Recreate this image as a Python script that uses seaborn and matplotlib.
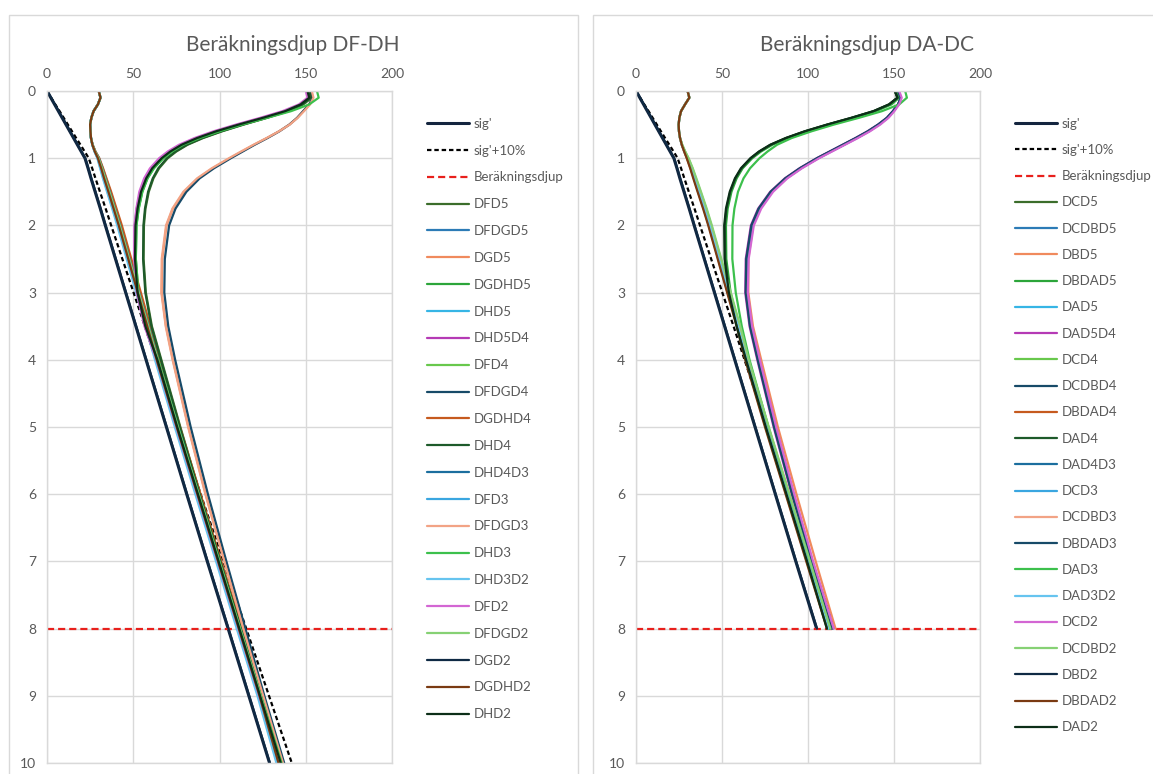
import matplotlib
matplotlib.use("Agg")
import matplotlib.pyplot as plt
import seaborn as sns
from matplotlib.patches import Rectangle

sns.set_theme(style="white")
plt.rcParams['font.family'] = ['Lato', 'DejaVu Sans']

# ---------------- data: left panel (DF-DH) ----------------
DEPTH_L = [0, 0.1, 0.2, 0.3, 0.4, 0.5, 0.6, 0.7, 0.8, 0.9, 1.0, 1.15, 1.3, 1.5, 1.75, 2.0, 2.5, 3.0, 3.5, 4.0, 5.0, 6.0, 7.0, 8.0, 9.0, 10.0]
SIG_L = [0, 2.2, 4.4, 6.6, 8.8, 11, 13.2, 15.4, 17.6, 19.8, 22, 23.8, 25.5, 27.9, 30.9, 33.8, 39.7, 45.6, 51.5, 57.4, 69.2, 81, 92.9, 105, 117, 129]
SIG10_L = [0, 2.4, 4.8, 7.3, 9.7, 12.1, 14.5, 16.9, 19.4, 21.8, 24.2, 26.2, 28.1, 30.7, 34, 37.2, 43.7, 50.2, 56.7, 63.1, 76.1, 89.1, 102.2, 115.5, 128.7, 141.9]
BERAK_X = [0, 200]
BERAK_Y = [8, 8]

DFD5 = [152.5, 153.5, 148.5, 140, 127.5, 114, 101.5, 90.5, 81.5, 75, 70, 65, 61.7, 59, 57.1, 56.2, 56, 57.3, 60.8, 66.3, 77.3, 88.8, 100.8, 112.8, 124.8, 136.5]
DFDGD5 = [30, 31, 29.5, 27, 25.7, 25, 25.2, 25.5, 26.4, 28, 30.2, 32.3, 34.2, 36.8, 39.9, 42.9, 48.4, 53.9, 59.4, 64.9, 76.4, 88.4, 100.5, 112.5, 124.5, 135.5]
DGD5 = [153, 154, 152, 148.5, 145, 140.5, 134.5, 127.5, 120, 113, 106, 96, 87.5, 79.5, 73, 69.3, 66.8, 66.5, 69, 73, 82, 92, 103, 114, 125.5, 137]
DGDHD5 = [152, 153, 148, 139, 126, 112, 99, 88, 79, 72.5, 67.3, 61.8, 58.2, 55.2, 53.1, 51.8, 51.5, 53, 57.5, 64.5, 76, 88, 100, 112, 124, 136]
DHD5 = [30, 31, 29.5, 27, 25.7, 25, 25.2, 25.5, 26.3, 27.6, 29.3, 31, 32.7, 35.1, 38.1, 41.1, 46.6, 52.1, 57.6, 63.1, 74.6, 86.5, 98.5, 110.5, 122.5, 133.5]
DHD5D4 = [151, 152, 147, 137.8, 124.6, 110.5, 97.5, 86.5, 77.5, 71, 66, 60.5, 57, 54, 52, 50.9, 50.8, 52.3, 56.8, 63.8, 75.3, 87.3, 99.3, 111.3, 123.3, 135.3]
DFD4 = [30, 31, 29.5, 27, 25.7, 25, 25.2, 25.5, 26.3, 27.8, 29.7, 31.6, 33.4, 35.9, 38.9, 41.9, 47.4, 52.9, 58.4, 63.9, 75.5, 87.5, 99.5, 111.5, 123.5, 134.5]
DFDGD4 = [153, 154, 152, 148.5, 145, 140.5, 134.7, 127.8, 120.4, 113.5, 106.6, 96.8, 88.5, 80.8, 74.5, 70.8, 68.3, 68, 70.3, 74.3, 83.3, 93.3, 104, 115, 126, 137.5]
DGDHD4 = [30, 31, 29.5, 27, 25.7, 25, 25.2, 25.5, 26.5, 28.1, 30.3, 32.5, 34.5, 37.2, 40.3, 43.4, 48.9, 54.4, 59.9, 65.4, 77, 89, 101, 113, 125, 136]
DHD4 = [152, 153, 148, 139.5, 127, 113.5, 101, 90, 81, 74.5, 69.5, 64.5, 61.3, 58.6, 56.8, 55.9, 55.7, 57, 60.5, 66, 77, 88.5, 100.5, 112.5, 124.5, 136]
DHD4D3 = [30, 31, 29.5, 27, 25.7, 25, 25.2, 25.5, 26.4, 27.9, 30, 32, 33.9, 36.4, 39.4, 42.4, 47.9, 53.4, 58.9, 64.4, 76, 88, 100, 112, 124, 135]
DFD3 = [30, 31, 29.5, 27, 25.7, 25, 25.2, 25.5, 26.3, 27.7, 29.5, 31.3, 33, 35.5, 38.5, 41.5, 47, 52.5, 58, 63.5, 75, 87, 99, 111, 123, 134]
DFDGD3 = [153.5, 154.5, 152.5, 149, 145.3, 140.7, 134.5, 127.3, 119.7, 112.5, 105.5, 95.5, 87, 79, 72.7, 69, 66.5, 66.3, 68.8, 72.8, 81.8, 91.8, 102.8, 113.8, 125.3, 136.8]
DHD3 = [156.5, 157.5, 152, 141.5, 127.5, 113, 100, 88.5, 79, 72.5, 67.5, 62, 58.3, 55.3, 53.2, 51.9, 51.5, 53, 57.5, 64.5, 76, 88, 100, 112, 124, 136]
DHD3D2 = [30, 31, 29.5, 27, 25.7, 25, 25.2, 25.5, 26.2, 27.5, 29.2, 30.8, 32.4, 34.8, 37.8, 40.7, 46.2, 51.7, 57.1, 62.6, 74.1, 86, 98, 110, 122, 133]
DFD2 = [150, 151, 146, 136.5, 123.5, 109.5, 96.5, 85.5, 76.5, 70, 65, 59.7, 56.3, 53.5, 51.8, 50.7, 50.5, 52, 56.5, 63.5, 75, 87, 99, 111, 123, 135]
DFDGD2 = [30, 31, 29.5, 27, 25.7, 25, 25.2, 25.5, 26.4, 27.9, 29.9, 31.9, 33.7, 36.2, 39.2, 42.2, 47.7, 53.2, 58.7, 64.2, 75.8, 87.8, 99.8, 111.8, 123.8, 134.8]
DGD2 = [0.2, 2.4, 4.6, 6.8, 9.0, 11.2, 13.4, 15.6, 17.8, 20, 22.2, 24, 25.7, 28.1, 31.1, 34, 39.9, 45.8, 51.7, 57.6, 69.4, 81.2, 93.1, 105.2, 117.2, 129.2]
DGDHD2 = [30, 31, 29.5, 27, 25.7, 25, 25.2, 25.5, 26.3, 27.7, 29.5, 31.4, 33.1, 35.6, 38.6, 41.6, 47.1, 52.6, 58.1, 63.6, 75.2, 87.2, 99.2, 111.2, 123.2, 134.2]
DHD2 = [151, 152, 147, 138, 125, 111, 98, 87, 78, 71.5, 66.5, 61, 57.5, 54.5, 52.5, 51.3, 51, 52.5, 57, 64, 75.5, 87.5, 99.5, 111.5, 123.5, 135.5]

# ---------------- data: right panel (DA-DC) ----------------
DEPTH_R = [0, 0.1, 0.2, 0.3, 0.4, 0.5, 0.6, 0.7, 0.8, 0.9, 1.0, 1.15, 1.3, 1.5, 1.75, 2.0, 2.5, 3.0, 3.5, 4.0, 5.0, 6.0, 7.0, 8.0]
SIG_R = [0, 2.2, 4.4, 6.6, 8.8, 11, 13.2, 15.4, 17.6, 19.8, 22, 23.8, 25.5, 27.9, 30.9, 33.8, 39.7, 45.6, 51.5, 57.4, 69.2, 81, 92.9, 105]
SIG10_R = [0, 2.4, 4.8, 7.3, 9.7, 12.1, 14.5, 16.9, 19.4, 21.8, 24.2, 26.2, 28.1, 30.7, 34, 37.2, 43.7, 50.2, 56.7, 63.1, 76.1, 89.1, 102.2, 115.5]

DCD5 = [150.5, 152, 147.3, 138.4, 125.5, 111.5, 98.5, 87.5, 78.5, 72, 67, 61.5, 58, 55, 52.8, 51.8, 52, 54.5, 59, 64.5, 76, 88, 100, 112]
DCDBD5 = [152.5, 154, 152.5, 149.7, 146.3, 141.4, 135.5, 128.5, 121, 113.5, 106, 96, 87.5, 79, 72, 67.8, 64.8, 64.5, 67, 71.5, 81, 91.5, 102.5, 114.5]
DBD5 = [152.5, 154, 152.5, 149.7, 146.2, 141.2, 135.2, 128.2, 120.7, 113.2, 105.8, 95.8, 87.4, 79, 72.2, 68.1, 65.3, 65.3, 68, 72.8, 82.5, 93.3, 104.5, 116]
DBDAD5 = [151.5, 153, 148.5, 139.5, 126.5, 112.5, 99.5, 88.5, 79.3, 72.7, 67.6, 62, 58.5, 55.5, 53.3, 52.3, 52.5, 55, 59.5, 65, 76.5, 88.5, 100.5, 112.5]
DAD5 = [30, 31, 28.5, 26.2, 25.2, 24.8, 25, 25.6, 26.7, 28.3, 30, 32.2, 34.1, 36.7, 40, 43, 48.5, 54, 59.5, 64.5, 76, 88, 100, 112]
DAD5D4 = [152.5, 154, 152.3, 149.3, 145.7, 140.6, 134.5, 127.5, 120, 112.5, 105, 95, 86.5, 78, 71, 66.8, 63.8, 63.5, 66, 70.5, 80, 90.5, 101.5, 113.5]
DCD4 = [30, 31, 28.5, 26.2, 25.2, 24.8, 25, 25.6, 26.8, 28.5, 30.4, 32.8, 34.8, 37.5, 40.8, 43.8, 49.3, 54.8, 60.3, 65.3, 76.8, 88.8, 100.8, 112.5]
DCDBD4 = [152.5, 154, 152.5, 149.5, 146, 141, 135, 128, 120.5, 113, 105.5, 95.5, 87, 78.5, 71.5, 67.3, 64.3, 64, 66.5, 71, 80.5, 91, 102, 114]
DBDAD4 = [30, 31, 28.5, 26.2, 25.2, 24.8, 25, 25.6, 26.6, 28, 29.6, 31.7, 33.6, 36.1, 39.3, 42.3, 47.8, 53.3, 58.8, 63.8, 75.3, 87.3, 99.3, 111.3]
DAD4 = [150.5, 152, 147.2, 138.2, 125.3, 111.3, 98.3, 87.3, 78.3, 71.8, 66.8, 61.3, 57.8, 54.8, 52.6, 51.6, 51.8, 54.3, 58.8, 64.3, 75.8, 87.8, 99.8, 111.5]
DAD4D3 = [152.5, 154, 152.5, 149.6, 146.2, 141.2, 135.3, 128.3, 120.8, 113.3, 105.8, 95.8, 87.3, 78.8, 71.8, 67.6, 64.6, 64.3, 66.8, 71.3, 80.8, 91.3, 102.3, 114.3]
DCD3 = [30, 31, 28.5, 26.2, 25.2, 24.8, 25, 25.6, 26.6, 28.1, 29.8, 32, 33.9, 36.4, 39.6, 42.6, 48.1, 53.6, 59.1, 64.1, 75.6, 87.6, 99.6, 111.6]
DCDBD3 = [30, 31, 28.5, 26.2, 25.2, 24.8, 25, 25.6, 26.7, 28.4, 30.2, 32.5, 34.6, 37.3, 40.6, 43.6, 49, 54.6, 60.2, 65.3, 77, 89.2, 101.5, 113.8]
DBDAD3 = [152.5, 154, 152.4, 149.4, 145.9, 140.8, 134.8, 127.8, 120.3, 112.8, 105.3, 95.3, 86.8, 78.3, 71.3, 67.1, 64.1, 63.8, 66.3, 70.8, 80.3, 90.8, 101.8, 113.8]
DAD3 = [156.5, 157.5, 153, 143, 129.5, 115, 102, 90.5, 82, 76.5, 71.8, 66.3, 62.5, 59.3, 57.2, 56.1, 56, 58, 61.5, 66, 77, 88.5, 100.5, 112.5]
DAD3D2 = [30, 31, 28.5, 26.2, 25.2, 24.8, 25, 25.6, 26.7, 28.2, 29.9, 32.1, 34, 36.6, 39.8, 42.8, 48.3, 53.8, 59.3, 64.3, 75.8, 87.8, 99.8, 111.8]
DCD2 = [153, 154.5, 153, 150.2, 146.8, 142, 136, 129, 121.5, 114, 106.5, 96.5, 88, 79.7, 72.8, 68.5, 65.5, 65, 67.5, 72, 81.5, 92, 103, 115]
DCDBD2 = [30, 31, 28.5, 26.2, 25.2, 24.8, 25, 25.6, 26.9, 28.6, 30.6, 33, 35.1, 37.8, 41.1, 44.1, 49.6, 55.1, 60.6, 65.6, 77.2, 89.2, 101.2, 113]
DBD2 = [0.2, 2.4, 4.6, 6.8, 9.0, 11.2, 13.4, 15.6, 17.8, 20, 22.2, 24, 25.7, 28.1, 31.1, 34, 39.9, 45.8, 51.7, 57.6, 69.4, 81.2, 93.1, 105.2]
DBDAD2 = [30, 31, 28.5, 26.2, 25.2, 24.8, 25, 25.6, 26.6, 28, 29.5, 31.5, 33.3, 35.8, 39, 42, 47.5, 53, 58.5, 63.5, 75, 87, 99, 111]
DAD2 = [150.5, 152, 147, 138, 125, 111, 98, 87, 78, 71.5, 66.5, 61, 57.5, 54.5, 52.3, 51.3, 51.5, 54, 58.5, 64, 75.5, 87.5, 99.5, 111]

X_TICKS = [0, 50, 100, 150, 200]
Y_TICKS = [0, 1, 2, 3, 4, 5, 6, 7, 8, 9, 10]
TITLES = ["Beräkningsdjup DF-DH", "Beräkningsdjup DA-DC"]

LEFT_SERIES = [
    ("DFD5", DFD5, "#3b6d2b"), ("DFDGD5", DFDGD5, "#2c7bb6"), ("DGD5", DGD5, "#f08a5d"),
    ("DGDHD5", DGDHD5, "#2ca53a"), ("DHD5", DHD5, "#36b5e5"), ("DHD5D4", DHD5D4, "#b53ab5"),
    ("DFD4", DFD4, "#68c84c"), ("DFDGD4", DFDGD4, "#174a68"), ("DGDHD4", DGDHD4, "#c65a1e"),
    ("DHD4", DHD4, "#1d5a2a"), ("DHD4D3", DHD4D3, "#1b6e9e"), ("DFD3", DFD3, "#3aa6e0"),
    ("DFDGD3", DFDGD3, "#f2a385"), ("DHD3", DHD3, "#3cc04c"), ("DHD3D2", DHD3D2, "#66c4ef"),
    ("DFD2", DFD2, "#d366d3"), ("DFDGD2", DFDGD2, "#86d174"), ("DGD2", DGD2, "#0f2a44"),
    ("DGDHD2", DGDHD2, "#7a3a12"), ("DHD2", DHD2, "#0c2e18"),
]
RIGHT_SERIES = [
    ("DCD5", DCD5, "#3b6d2b"), ("DCDBD5", DCDBD5, "#2c7bb6"), ("DBD5", DBD5, "#f08a5d"),
    ("DBDAD5", DBDAD5, "#2ca53a"), ("DAD5", DAD5, "#36b5e5"), ("DAD5D4", DAD5D4, "#b53ab5"),
    ("DCD4", DCD4, "#68c84c"), ("DCDBD4", DCDBD4, "#174a68"), ("DBDAD4", DBDAD4, "#c65a1e"),
    ("DAD4", DAD4, "#1d5a2a"), ("DAD4D3", DAD4D3, "#1b6e9e"), ("DCD3", DCD3, "#3aa6e0"),
    ("DCDBD3", DCDBD3, "#f2a385"), ("DBDAD3", DBDAD3, "#174a68"), ("DAD3", DAD3, "#3cc04c"),
    ("DAD3D2", DAD3D2, "#66c4ef"), ("DCD2", DCD2, "#d366d3"), ("DCDBD2", DCDBD2, "#86d174"),
    ("DBD2", DBD2, "#0f2a44"), ("DBDAD2", DBDAD2, "#7a3a12"), ("DAD2", DAD2, "#0c2e18"),
]

W, H = 1153, 774
fig = plt.figure(figsize=(W / 100, H / 100), dpi=100)
fig.patch.set_facecolor("white")

GRID = "#d9d9d9"
TXT = "#595959"

# chart-area frames
fig.add_artist(Rectangle((9 / W, -0.02), (578 - 9) / W, 1 - 14.5 / H + 0.02, transform=fig.transFigure,
                         fill=False, edgecolor=GRID, lw=1.0))
fig.add_artist(Rectangle((593 / W, -0.02), 0.5, 1 - 14.5 / H + 0.02, transform=fig.transFigure,
                         fill=False, edgecolor=GRID, lw=1.0))

panels = [
    dict(ax_left=47, ax_right=392, depth=DEPTH_L, sig=SIG_L, sig10=SIG10_L, series=LEFT_SERIES,
         title=TITLES[0], title_x=293, leg_x=427, spacing=1.125),
    dict(ax_left=636, ax_right=980, depth=DEPTH_R, sig=SIG_R, sig10=SIG10_R, series=RIGHT_SERIES,
         title=TITLES[1], title_x=867, leg_x=1015, spacing=1.08),
]

for p in panels:
    ax = fig.add_axes([p["ax_left"] / W, 1 - 763 / H, (p["ax_right"] - p["ax_left"]) / W, 672 / H])
    ax.set_facecolor("white")
    d = p["depth"]
    sns.lineplot(x=p["sig"], y=d, ax=ax, color="#14253f", lw=2.2, sort=False, estimator=None, label="sig'")
    sns.lineplot(x=p["sig10"], y=d, ax=ax, color="black", lw=1.6, sort=False, estimator=None,
                 linestyle=(0, (2.0, 1.3)), label="sig'+10%")
    sns.lineplot(x=BERAK_X, y=BERAK_Y, ax=ax, color="#e8201c", lw=1.6, sort=False, estimator=None,
                 linestyle=(0, (3.2, 1.8)), label="Beräkningsdjup")
    for name, vals, col in p["series"]:
        sns.lineplot(x=vals, y=d, ax=ax, color=col, lw=1.6, sort=False, estimator=None, label=name)

    ax.set_xlim(0, 200)
    ax.set_ylim(10, 0)
    ax.set_xticks(X_TICKS)
    ax.set_yticks(Y_TICKS)
    ax.xaxis.tick_top()
    ax.grid(True, color=GRID, lw=1.0)
    ax.set_axisbelow(True)
    for s in ax.spines.values():
        s.set_color(GRID)
        s.set_linewidth(1.0)
    ax.tick_params(axis="both", length=0, labelsize=10, labelcolor=TXT)
    ax.tick_params(axis="x", pad=8)
    ax.tick_params(axis="y", pad=8)
    ax.set_xlabel("")
    ax.set_ylabel("")

    fig.text(p["title_x"] / W, 1 - 45 / H, p["title"], ha="center", va="center", fontsize=15, color=TXT)

    handles, labels = ax.get_legend_handles_labels()
    ax.legend(handles, labels, loc="upper left", bbox_to_anchor=(p["leg_x"] / W, 1 - 117.7 / H),
              bbox_transform=fig.transFigure, frameon=False, fontsize=9.5, labelcolor=TXT,
              handlelength=3.2, handletextpad=0.33, labelspacing=p["spacing"], borderpad=0, borderaxespad=0)

fig.savefig("out.png", dpi=100, facecolor="white")
